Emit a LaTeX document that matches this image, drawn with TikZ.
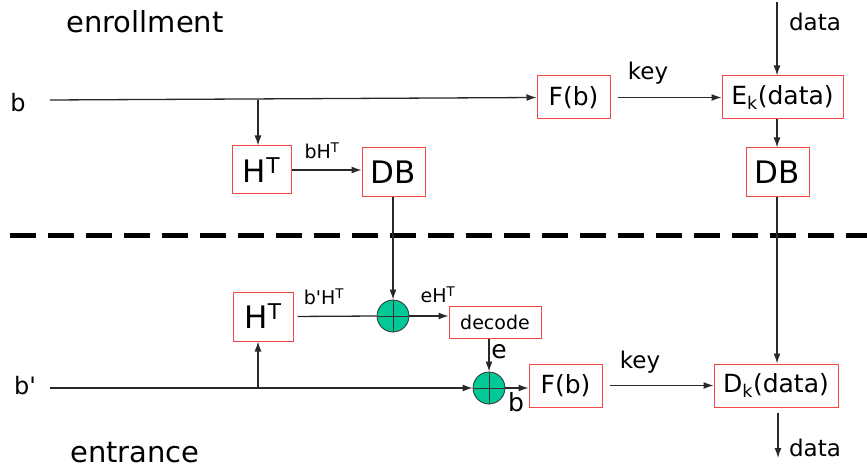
\documentclass[tikz,border=0pt]{standalone}
\usepackage{fontspec}
\setmainfont{DejaVu Sans}
\usetikzlibrary{arrows.meta}
\newcommand{\fsz}[1]{\fontsize{#1}{#1}\selectfont}
\definecolor{boxred}{RGB}{245,70,70}
\definecolor{xorgreen}{RGB}{0,200,150}
\definecolor{linegray}{RGB}{40,40,40}
\tikzset{
  box/.style={draw=boxred, line width=1pt, inner sep=0pt, fill=white},
  arr/.style={draw=linegray, line width=1.3pt, -{Latex[length=10pt,width=7pt]}},
  ln/.style={draw=linegray, line width=1.3pt},
  xorc/.style={circle, draw=black!80, line width=0.8pt, fill=xorgreen, minimum size=32pt, inner sep=0pt},
  lbl/.style={inner sep=0pt},
}
\begin{document}
\begin{tikzpicture}[x=1pt,y=-1pt]
\useasboundingbox (0,0) rectangle (867,470);
% titles
\node[lbl,font=\fsz{29}] (enr) at (145,22) {enrollment};
\node[lbl,font=\fsz{29}] (ent) at (135,453) {entrance};
% dashed separator
\coordinate (dl) at (10,236);
\coordinate (dr) at (867,236);
\draw[line width=5pt, dash pattern=on 26pt off 12pt] (dl) -- (dr);
% top boxes
\node[box,minimum width=59pt,minimum height=48pt,font=\fsz{31}] (HT1) at (261.5,170) {H\textsuperscript{T}};
\node[box,minimum width=63pt,minimum height=49pt,font=\fsz{31}] (DB1) at (393.5,172.5) {DB};
\node[box,minimum width=73pt,minimum height=43pt,font=\fsz{25}] (Fb1) at (573.5,97.5) {F(b)};
\node[box,minimum width=121pt,minimum height=43pt,font=\fsz{25}] (Ek) at (782.5,97.5) {E\textsubscript{k}(data)};
\node[box,minimum width=63pt,minimum height=49pt,font=\fsz{31}] (DB2) at (777.5,172.5) {DB};
% bottom boxes
\node[box,minimum width=60pt,minimum height=49pt,font=\fsz{31}] (HT2) at (263,316.5) {H\textsuperscript{T}};
\node[box,minimum width=92pt,minimum height=32pt,font=\fsz{19}] (dec) at (495,322) {decode};
\node[box,minimum width=73pt,minimum height=43pt,font=\fsz{25}] (Fb2) at (565.5,385.5) {F(b)};
\node[box,minimum width=124pt,minimum height=43pt,font=\fsz{25}] (Dk) at (776,385.5) {D\textsubscript{k}(data)};
% xor circles
\node[xorc] (c1) at (393,316) {};
\node[xorc] (c2) at (489,388) {};
\draw[black!80,line width=1pt] (c1.north) -- (c1.south) (c1.west) -- (c1.east);
\draw[black!80,line width=1pt] (c2.north) -- (c2.south) (c2.west) -- (c2.east);
% input labels
\node[lbl,font=\fsz{24}] (bl) at (18,103) {b};
\node[lbl,font=\fsz{24}] (bpl) at (25,386) {b\textquotesingle};
% top connectors
\coordinate (bin) at (50,100);
\coordinate (br1) at (258,100);
\draw[arr] (bin) -- (Fb1.west);
\draw[arr] (br1) -- (br1 |- HT1.north);
\draw[arr] (HT1.east) -- (DB1.west |- HT1.east);
\draw[arr,shorten <=7pt] (Fb1.east) -- (Ek.west);
\coordinate (dtop) at (777,2);
\draw[arr] (dtop) -- (dtop |- Ek.north);
\draw[arr] (dtop |- Ek.south) -- (dtop |- DB2.north);
\draw[arr] (dtop |- DB2.south) -- (dtop |- Dk.north);
% bottom connectors
\draw[arr] (c1 |- DB1.south) -- (c1.north);
\draw[ln,shorten <=4pt] (HT2.east) -- (c1.west);
\draw[arr] (c1.east) -- (dec.west |- c1.east);
\draw[arr] (c2 |- dec.south) -- (c2.north);
\coordinate (bpin) at (50,388);
\coordinate (br2) at (258,388);
\draw[arr] (bpin) -- (c2.west);
\draw[arr] (br2) -- (br2 |- HT2.south);
\draw[arr] (c2.east) -- (Fb2.west |- c2.east);
\draw[arr,shorten <=7pt] (Fb2.east) -- (Dk.west);
\coordinate (dbot) at (778,458);
\draw[arr] (dbot |- Dk.south) ++(0,5) -- (dbot);
% labels
\node[lbl,font=\fsz{19}] (l1) at (322,151) {bH\textsuperscript{T}};
\node[lbl,font=\fsz{23}] (k1) at (648,73) {key};
\node[lbl,font=\fsz{23}] (d1) at (815,22) {data};
\node[lbl,font=\fsz{19}] (l2) at (324,297) {b\textquotesingle H\textsuperscript{T}};
\node[lbl,font=\fsz{19}] (l3) at (438,295) {eH\textsuperscript{T}};
\node[lbl,font=\fsz{25}] (le) at (499,352) {e};
\node[lbl,font=\fsz{25}] (lb) at (516,402) {b};
\node[lbl,font=\fsz{23}] (k2) at (640,362) {key};
\node[lbl,font=\fsz{23}] (d2) at (815,448) {data};
\end{tikzpicture}
\end{document}
